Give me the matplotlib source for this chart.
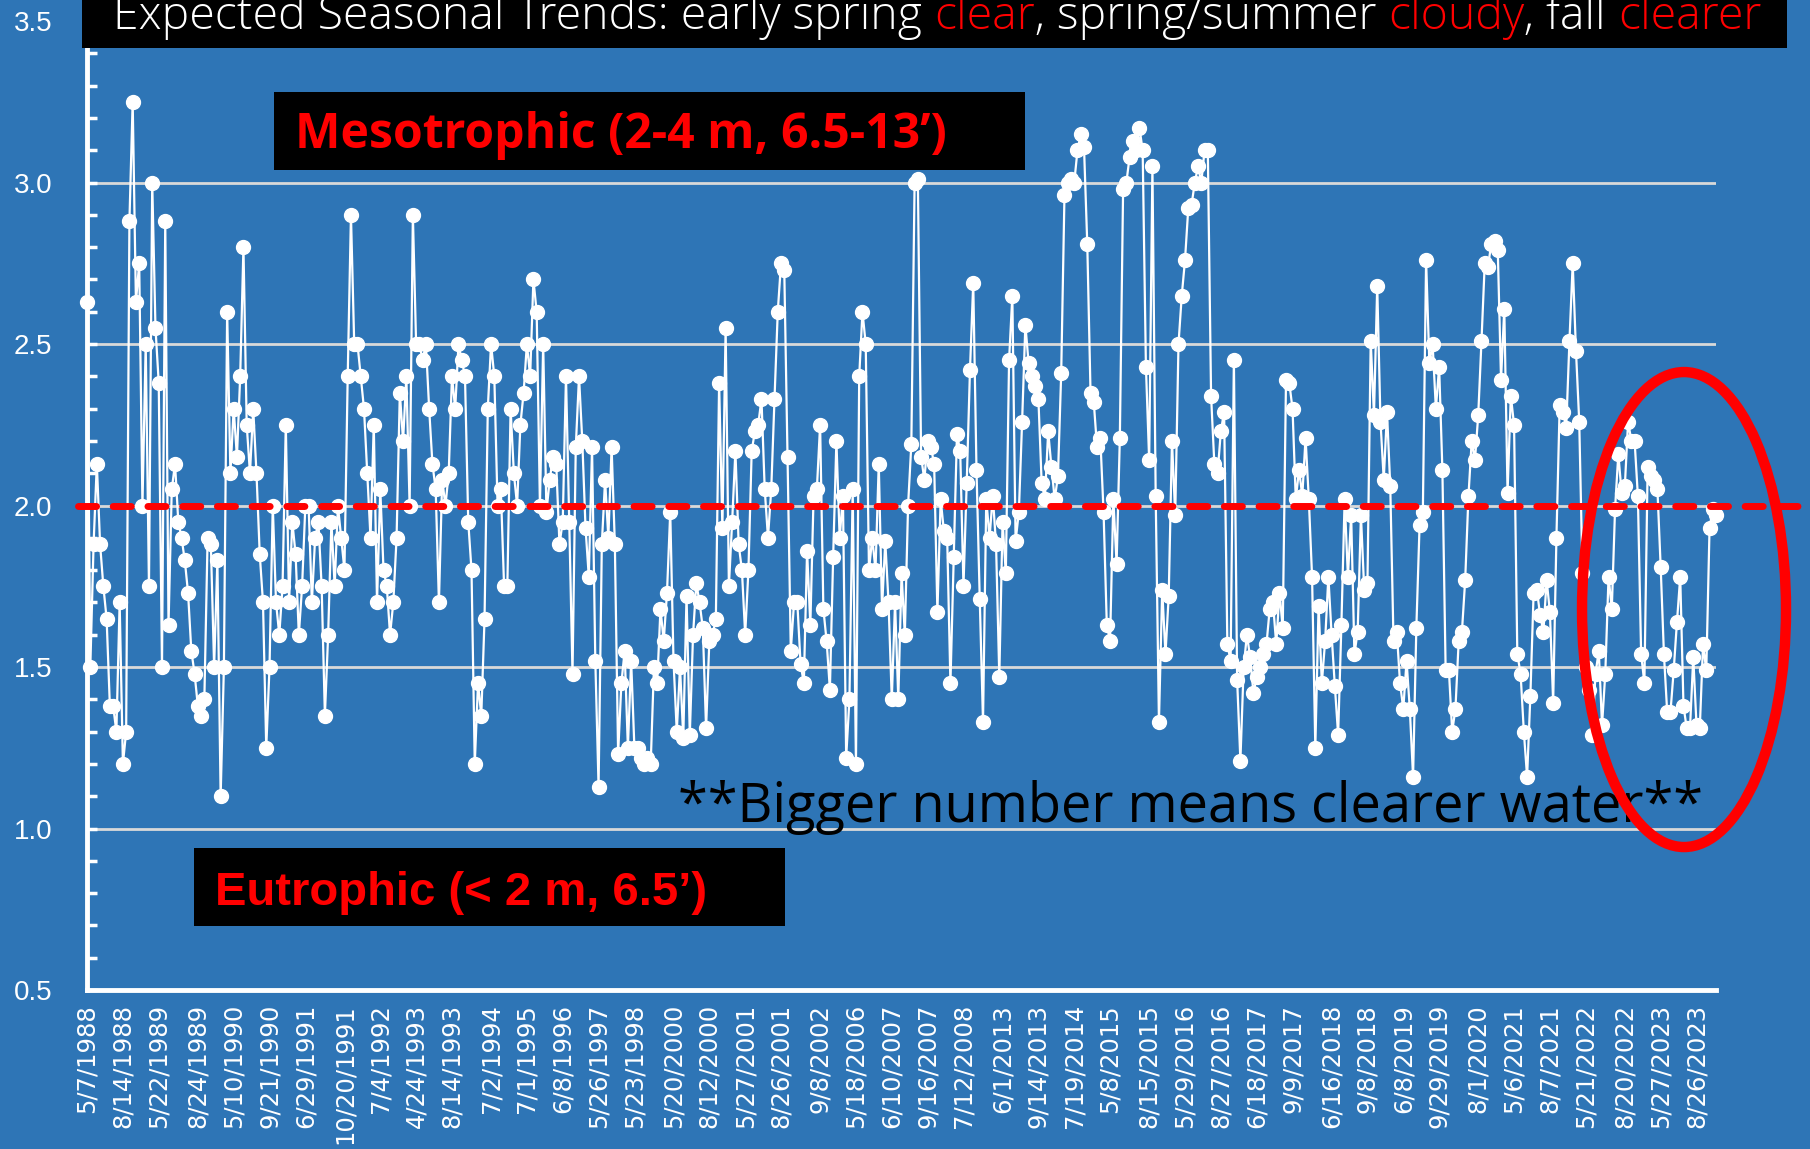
import numpy as np
import matplotlib.pyplot as plt
from matplotlib.patches import Rectangle, Ellipse
from matplotlib.text import Annotation

# Secchi disk depth readings (m), in sampling order
secchi_1988_1993 = [2.63, 1.5, 1.88, 2.13, 1.88, 1.75, 1.65, 1.38, 1.38, 1.30, 1.70, 1.20, 1.30,
                    2.88, 3.25, 2.63, 2.75, 2.0, 2.5, 1.75, 3.0, 2.55, 2.38, 1.5, 2.88, 1.63,
                    2.05, 2.13, 1.95, 1.90, 1.83, 1.73, 1.55, 1.48, 1.38, 1.35, 1.40, 1.90, 1.88,
                    1.5, 1.83, 1.10, 1.5, 2.60, 2.10, 2.30, 2.15, 2.40, 2.80, 2.25, 2.10, 2.30,
                    2.10, 1.85, 1.70, 1.25, 1.5, 2.0, 1.70, 1.60, 1.75, 2.25, 1.70, 1.95, 1.85,
                    1.60, 1.75, 2.0, 2.0, 1.70, 1.90, 1.95, 1.75, 1.35, 1.60, 1.95, 1.75, 2.0,
                    1.90, 1.80, 2.40, 2.90, 2.50, 2.50, 2.40, 2.30, 2.10]
secchi_1993_1998 = [1.90, 2.25, 1.70, 2.05, 1.80, 1.75, 1.60, 1.70, 1.90, 2.35, 2.20, 2.40, 2.0,
                    2.90, 2.50, 2.50, 2.45, 2.50, 2.30, 2.13, 2.05, 1.70, 2.08, 2.0, 2.10, 2.40,
                    2.30, 2.50, 2.45, 2.40, 1.95, 1.80, 1.20, 1.45, 1.35, 1.65, 2.30, 2.50, 2.40,
                    2.0, 2.05, 1.75, 1.75, 2.30, 2.10, 2.0, 2.25, 2.35, 2.50, 2.40, 2.70, 2.60,
                    2.0, 2.50, 1.98, 2.08, 2.15, 2.13, 1.88, 1.95, 2.40, 1.95, 1.48, 2.18, 2.40,
                    2.20, 1.93, 1.78, 2.18, 1.52, 1.13, 1.88, 2.08, 1.90, 2.18, 1.88, 1.23, 1.45,
                    1.55, 1.25, 1.52]
secchi_1998_2007 = [1.25, 1.25, 1.22, 1.20, 1.22, 1.20, 1.50, 1.45, 1.68, 1.58, 1.73, 1.98, 1.52,
                    1.30, 1.50, 1.28, 1.72, 1.29, 1.60, 1.76, 1.70, 1.62, 1.31, 1.58, 1.60, 1.65,
                    2.38, 1.93, 2.55, 1.75, 1.95, 2.17, 1.88, 1.80, 1.60, 1.80, 2.17, 2.23, 2.25,
                    2.33, 2.05, 1.90, 2.05, 2.33, 2.60, 2.75, 2.73, 2.15, 1.55, 1.70, 1.70, 1.51,
                    1.45, 1.86, 1.63, 2.03, 2.05, 2.25, 1.68, 1.58, 1.43, 1.84, 2.20, 1.90, 2.03,
                    1.22, 1.40, 2.05, 1.20, 2.40, 2.60, 2.50, 1.80, 1.90, 1.80, 2.13, 1.68, 1.89,
                    1.70, 1.40, 1.70, 1.40, 1.79, 1.60, 2.0, 2.19, 3.0]
secchi_2007_2016 = [3.01, 2.15, 2.08, 2.20, 2.18, 2.13, 1.67, 2.02, 1.92, 1.90, 1.45, 1.84, 2.22,
                    2.17, 1.75, 2.07, 2.42, 2.69, 2.11, 1.71, 1.33, 2.02, 1.90, 2.03, 1.88, 1.47,
                    1.95, 1.79, 2.45, 2.65, 1.89, 1.98, 2.26, 2.56, 2.44, 2.40, 2.37, 2.33, 2.07,
                    2.02, 2.23, 2.12, 2.02, 2.09, 2.41, 2.96, 3.0, 3.01, 3.0, 3.10, 3.15, 3.11,
                    2.81, 2.35, 2.32, 2.18, 2.21, 1.98, 1.63, 1.58, 2.02, 1.82, 2.21, 2.98, 3.0,
                    3.08, 3.13, 3.10, 3.17, 3.10, 2.43, 2.14, 3.05, 2.03, 1.33, 1.74, 1.54, 1.72,
                    2.20, 1.97, 2.50]
secchi_2016_2021 = [2.65, 2.76, 2.92, 2.93, 3.0, 3.05, 3.0, 3.10, 3.10, 2.34, 2.13, 2.10, 2.23,
                    2.29, 1.57, 1.52, 2.45, 1.46, 1.21, 1.50, 1.60, 1.53, 1.42, 1.47, 1.50, 1.54,
                    1.57, 1.68, 1.70, 1.57, 1.73, 1.62, 2.39, 2.38, 2.30, 2.02, 2.11, 2.03, 2.21,
                    2.02, 1.78, 1.25, 1.69, 1.45, 1.58, 1.78, 1.60, 1.44, 1.29, 1.63, 2.02, 1.78,
                    1.97, 1.54, 1.61, 1.97, 1.74, 1.76, 2.51, 2.28, 2.68, 2.26, 2.08, 2.29, 2.06,
                    1.58, 1.61, 1.45, 1.37, 1.52, 1.37, 1.16, 1.62, 1.94, 1.98, 2.76, 2.44, 2.50,
                    2.30, 2.43, 2.11, 1.49, 1.49, 1.30, 1.37, 1.58, 1.61, 1.77, 2.03, 2.20, 2.14,
                    2.28, 2.51, 2.75]
secchi_2021_2023 = [2.74, 2.81, 2.82, 2.79, 2.39, 2.61, 2.04, 2.34, 2.25, 1.54, 1.48, 1.30, 1.16,
                    1.41, 1.73, 1.74, 1.66, 1.61, 1.77, 1.67, 1.39, 1.90, 2.31, 2.29, 2.24, 2.51,
                    2.75, 2.48, 2.26, 1.79, 1.50, 1.43, 1.29, 1.48, 1.55, 1.32, 1.48, 1.78, 1.68,
                    1.99, 2.16, 2.04, 2.06, 2.26, 2.20, 2.20, 2.03, 1.54, 1.45, 2.12, 2.09, 2.08,
                    2.05, 1.81, 1.54, 1.36, 1.36, 1.49, 1.64, 1.78, 1.38, 1.31, 1.31, 1.53, 1.32,
                    1.31, 1.57, 1.49, 1.93, 1.99, 1.97]

secchi = (secchi_1988_1993 + secchi_1993_1998 + secchi_1998_2007 +
          secchi_2007_2016 + secchi_2016_2021 + secchi_2021_2023)

date_labels = ['5/7/1988', '8/14/1988', '5/22/1989', '8/24/1989', '5/10/1990', '9/21/1990',
               '6/29/1991', '10/20/1991', '7/4/1992', '4/24/1993', '8/14/1993', '7/2/1994',
               '7/1/1995', '6/8/1996', '5/26/1997', '5/23/1998', '5/20/2000', '8/12/2000',
               '5/27/2001', '8/26/2001', '9/8/2002', '5/18/2006', '6/10/2007', '9/16/2007',
               '7/12/2008', '6/1/2013', '9/14/2013', '7/19/2014', '5/8/2015', '8/15/2015',
               '5/29/2016', '8/27/2016', '6/18/2017', '9/9/2017', '6/16/2018', '9/8/2018',
               '6/8/2019', '9/29/2019', '8/1/2020', '5/6/2021', '8/7/2021', '5/21/2022',
               '8/20/2022', '5/27/2023', '8/26/2023']

title_parts = [('Expected Seasonal Trends: early spring ', 'white'), ('clear', 'red'),
               (', spring/summer ', 'white'), ('cloudy', 'red'),
               (', fall ', 'white'), ('clearer', 'red')]

blue = '#2E75B6'
red = '#FF0000'

fig = plt.figure(figsize=(18.1, 11.49), dpi=100, facecolor=blue)
ax = fig.add_axes([0.0481, 0.1383, 0.9, 0.8434])
ax.set_facecolor(blue)

x = np.arange(len(secchi))
ax.plot(x, secchi, color='white', lw=1.6, marker='o', ms=10, clip_on=False, zorder=3)

# trophic boundary at 2 m
ax.axhline(2.0, xmin=-0.0055, xmax=1.052, color=red, lw=5, dashes=(2.6, 2.4),
           dash_capstyle='round', clip_on=False, zorder=4)

ax.set_xlim(0, len(secchi) - 1)
ax.set_ylim(0.5, 3.5)
ax.set_yticks(np.arange(0.5, 3.51, 0.5))
ax.set_yticks(np.arange(0.5, 3.5, 0.1), minor=True)
ax.yaxis.set_major_formatter('{x:.1f}')
ax.grid(axis='y', color='#D9D9D9', lw=2)
ax.set_axisbelow(True)

tick_idx = np.linspace(0, len(secchi) - 7, len(date_labels)).round().astype(int)
ax.set_xticks(tick_idx)
ax.set_xticklabels(date_labels, rotation=90, fontsize=17.5, color='white',
                   family='DejaVu Sans')
ax.tick_params(axis='x', length=0, pad=10)
ax.tick_params(axis='y', which='both', direction='in', length=7, width=2.5,
               color='white', labelcolor='white', labelsize=20, pad=25)
for lab in ax.get_yticklabels():
    lab.set_family('Liberation Sans')

for side in ['top', 'right']:
    ax.spines[side].set_visible(False)
for side in ['left', 'bottom']:
    ax.spines[side].set_color('white')
    ax.spines[side].set_linewidth(3.5)

# black label boxes
fig.add_artist(Rectangle((0.0453, 0.958), 0.942, 0.05, transform=fig.transFigure,
                         fc='black', ec='none', zorder=2))
fig.add_artist(Rectangle((0.1514, 0.852), 0.415, 0.068, transform=fig.transFigure,
                         fc='black', ec='none', zorder=2))
fig.add_artist(Rectangle((0.1072, 0.194), 0.3265, 0.068, transform=fig.transFigure,
                         fc='black', ec='none', zorder=2))

# title with coloured words
prev = fig.text(0.0625, 0.9745, title_parts[0][0], color=title_parts[0][1], fontsize=33.4,
                family='Open Sans', fontweight='light', va='baseline', ha='left', zorder=3)
for txt, col in title_parts[1:]:
    ann = Annotation(txt, xy=(1, 0), xycoords=prev, va='bottom', ha='left',
                     color=red if col == 'red' else 'white', fontsize=33.4,
                     family='Open Sans', fontweight='light', zorder=3)
    fig.add_artist(ann)
    prev = ann

fig.text(0.163, 0.8712, 'Mesotrophic (2-4 m, 6.5-13\u2019)', color=red, fontsize=34.7,
         family='Open Sans', fontweight='bold', va='baseline', ha='left', zorder=3)
fig.text(0.1188, 0.2124, 'Eutrophic (< 2 m, 6.5\u2019)', color=red, fontsize=34,
         family='Liberation Sans', fontweight='bold', va='baseline', ha='left', zorder=3)
fig.text(0.3745, 0.2846, '**Bigger number means clearer water**', color='black',
         fontsize=39, family='Open Sans', va='baseline', ha='left', zorder=3)

fig.add_artist(Ellipse((0.9304, 0.4695), 0.1127, 0.4134, transform=fig.transFigure,
                       fill=False, ec=red, lw=7.5, zorder=5))

fig.savefig('out.png', dpi=100, facecolor=blue)
